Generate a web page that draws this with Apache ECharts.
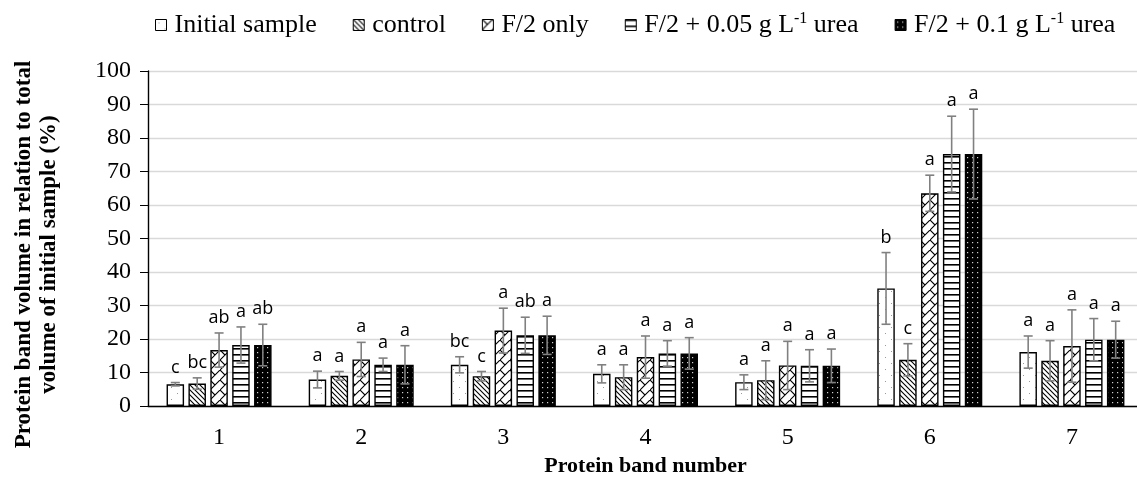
<!DOCTYPE html>
<html>
<head>
<meta charset="utf-8">
<script src="https://cdn.jsdelivr.net/npm/echarts@6/dist/echarts.min.js"></script>
<style>html,body{margin:0;padding:0;background:#fff}#chart{width:1137px;height:480px}</style>
</head>
<body>
<div id="chart"></div>
<script>
const categories = ['1', '2', '3', '4', '5', '6', '7'];
const seriesNames = ['Initial sample', 'control', 'F/2 only', 'F/2 + 0.05 g L-1 urea', 'F/2 + 0.1 g L-1 urea'];

const initialSample = [6.5, 7.9, 12.3, 9.6, 7.1, 35.1, 16.1];
const initialErr = [0.5, 2.5, 2.4, 2.7, 2.2, 10.7, 4.8];
const initialLetters = ['c', 'a', 'bc', 'a', 'a', 'b', 'a'];

const control = [6.7, 9.0, 8.9, 8.6, 7.7, 13.8, 13.5];
const controlErr = [1.7, 1.3, 1.4, 3.7, 5.8, 4.8, 6.0];
const controlLetters = ['bc', 'a', 'c', 'a', 'a', 'c', 'a'];

const f2Only = [16.7, 13.9, 22.5, 14.6, 12.1, 63.5, 17.9];
const f2OnlyErr = [5.1, 5.1, 6.7, 6.3, 7.2, 5.4, 10.8];
const f2OnlyLetters = ['ab', 'a', 'a', 'a', 'a', 'a', 'a'];

const urea005 = [18.2, 12.3, 21.1, 15.7, 12.0, 75.2, 19.8];
const urea005Err = [5.4, 2.0, 5.4, 3.8, 4.8, 11.3, 6.3];
const urea005Letters = ['a', 'a', 'ab', 'a', 'a', 'a', 'a'];

const urea01 = [18.2, 12.3, 21.1, 15.7, 12.0, 75.2, 19.8];
const urea01Err = [6.2, 5.7, 5.7, 4.7, 5.0, 13.4, 5.5];
const urea01Letters = ['ab', 'a', 'a', 'a', 'a', 'a', 'a'];

const yTicks = { min: 0, max: 100, interval: 10 };

const values = [initialSample, control, f2Only, urea005, urea01];
const errors = [initialErr, controlErr, f2OnlyErr, urea005Err, urea01Err];
const letters = [initialLetters, controlLetters, f2OnlyLetters, urea005Letters, urea01Letters];

// ---------- patterns ----------
function tile(w, h, bg, draw) {
  const c = document.createElement('canvas');
  c.width = w; c.height = h;
  const g = c.getContext('2d');
  g.fillStyle = bg; g.fillRect(0, 0, w, h);
  draw(g);
  return { image: c, repeat: 'repeat' };
}
const patterns = [
  tile(12, 12, '#fff', g => {
    g.fillStyle = '#9a9a9a';
    g.fillRect(3, 3, 1, 1);
    g.fillRect(9, 9, 1, 1);
  }),
  tile(5, 5, '#fff', g => {
    g.strokeStyle = '#000'; g.lineWidth = 1.1;
    g.beginPath();
    g.moveTo(-1, -1); g.lineTo(6, 6);
    g.moveTo(-1, 4); g.lineTo(1, 6);
    g.moveTo(4, -1); g.lineTo(6, 1);
    g.stroke();
  }),
  tile(10, 10, '#fff', g => {
    g.strokeStyle = '#000'; g.lineWidth = 1.1;
    g.beginPath();
    g.moveTo(-1, 11); g.lineTo(11, -1);
    g.moveTo(0, 0); g.lineTo(5, 5);
    g.stroke();
  }),
  tile(4, 6, '#fff', g => {
    g.fillStyle = '#000';
    g.fillRect(0, 0, 4, 1.6);
  }),
  tile(5, 5, '#000', g => {
    g.fillStyle = '#cfcfcf';
    g.fillRect(2, 2, 1.2, 1.2);
  })
];

const BAR_W = 17.5;
const BAR_GAP = 0.25;

const barSeries = seriesNames.map((name, i) => ({
  name: name,
  type: 'bar',
  data: values[i],
  barWidth: BAR_W,
  barGap: (BAR_GAP * 100) + '%',
  itemStyle: { color: patterns[i], borderColor: '#000', borderWidth: 1.4 },
  emphasis: { disabled: true },
  z: 2
}));

const errData = [];
for (let s = 0; s < values.length; s++) {
  for (let c = 0; c < categories.length; c++) {
    errData.push([c, s, values[s][c], errors[s][c]]);
  }
}

const errSeries = {
  type: 'custom',
  name: 'errors',
  data: errData,
  z: 5,
  silent: true,
  encode: { x: 0, y: 2 },
  renderItem: function (params, api) {
    const c = api.value(0), s = api.value(1), v = api.value(2), e = api.value(3);
    const lbl = letters[s][c];
    const base = api.coord([c, v]);
    const x = base[0] + (s - 2) * BAR_W * (1 + BAR_GAP);
    const yt = api.coord([c, v + e])[1];
    const yb = api.coord([c, v - e])[1];
    const cap = 4.5;
    const st = { stroke: '#808080', lineWidth: 1.6 };
    return {
      type: 'group',
      children: [
        { type: 'line', shape: { x1: x, y1: yt, x2: x, y2: yb }, style: st },
        { type: 'line', shape: { x1: x - cap, y1: yt, x2: x + cap, y2: yt }, style: st },
        { type: 'line', shape: { x1: x - cap, y1: yb, x2: x + cap, y2: yb }, style: st },
        { type: 'text', style: { text: lbl, x: x, y: yt - 6, align: 'center', verticalAlign: 'bottom',
          fontFamily: '"Open Sans", sans-serif', fontSize: 18, fill: '#000' } }
      ]
    };
  }
};

const chart = echarts.init(document.getElementById('chart'), null, { renderer: 'canvas' });
chart.setOption({
  animation: false,
  backgroundColor: '#fff',
  legend: {
    data: seriesNames,
    left: 150,
    top: 6,
    itemWidth: 11,
    itemHeight: 11,
    itemGap: 36,
    icon: 'rect',
    selectedMode: false,
    itemStyle: { borderColor: '#000', borderWidth: 1 },
    formatter: function (name) { return name.replace('L-1', 'L{sup|-1}'); },
    textStyle: {
      fontFamily: '"Liberation Serif", "Times New Roman", serif',
      fontSize: 26,
      color: '#000',
      padding: [0, 0, 0, 3],
      rich: {
        sup: { fontFamily: '"Liberation Serif", serif', fontSize: 16, color: '#000', verticalAlign: 'bottom', padding: [0, 0, 12, 0] }
      }
    }
  },
  grid: { left: 148, top: 71, width: 995, height: 335, outerBoundsMode: 'none', containLabel: false },
  xAxis: {
    type: 'category',
    data: categories,
    axisLine: { lineStyle: { color: '#000', width: 1.4 } },
    axisTick: { show: false },
    axisLabel: { fontFamily: '"Liberation Serif", serif', fontSize: 24, color: '#000', margin: 20 },
    name: 'Protein band number',
    nameLocation: 'middle',
    nameGap: 49,
    nameTextStyle: { fontFamily: '"Liberation Serif", serif', fontWeight: 'bold', fontSize: 22, color: '#000' }
  },
  yAxis: {
    type: 'value',
    min: yTicks.min, max: yTicks.max, interval: yTicks.interval,
    axisLine: { show: true, lineStyle: { color: '#000', width: 1.4 } },
    axisTick: { show: true, length: 8, lineStyle: { color: '#000' } },
    axisLabel: { fontFamily: '"Liberation Serif", serif', fontSize: 24, color: '#000', margin: 17 },
    splitLine: { show: true, lineStyle: { color: '#d9d9d9', width: 1.4 } },
    name: 'Protein band volume in relation to total\nvolume of initial sample (%)',
    nameLocation: 'middle',
    nameRotate: 90,
    nameGap: 86,
    nameTextStyle: { fontFamily: '"Liberation Serif", serif', fontWeight: 'bold', fontSize: 23, lineHeight: 25, color: '#000', padding: [0, 32, 0, 0] }
  },
  series: barSeries.concat([errSeries])
});
</script>
</body>
</html>
